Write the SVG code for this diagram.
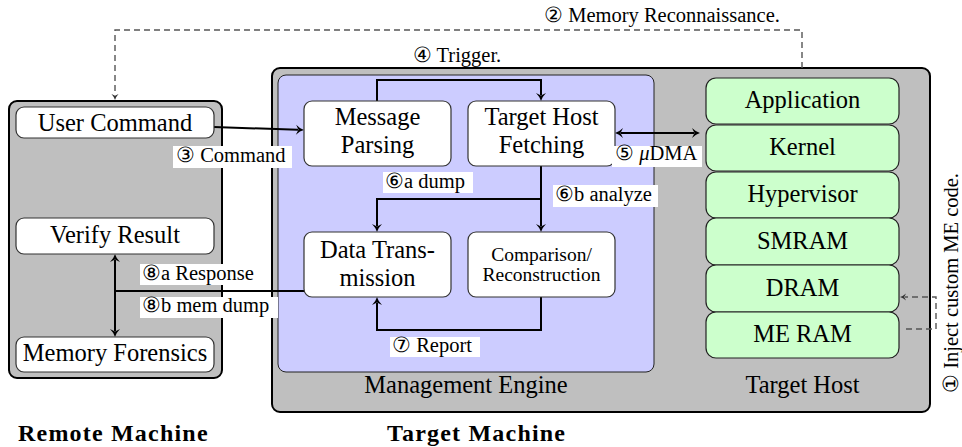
<svg xmlns="http://www.w3.org/2000/svg" width="962" height="447" viewBox="0 0 962 447" font-family="'Liberation Serif', 'Times New Roman', Tinos, 'DejaVu Serif', serif">
<style>
text{font-family:'Liberation Serif','Times New Roman',Tinos,'DejaVu Serif',serif;fill:#000}
.big{font-size:24.5px;text-anchor:middle}
.lbl{font-size:20.5px}
.sm{font-size:19.5px;text-anchor:middle}
.mid{text-anchor:middle}
.title{font-size:24px;font-weight:bold;letter-spacing:1.2px}
.cont{fill:#bfbfbf;stroke:#000;stroke-width:2}
.me{fill:#ccccff;stroke:#222;stroke-width:1}
.node{fill:#fff;stroke:#333;stroke-width:1.2}
.mem{fill:#ccffcc;stroke:#222;stroke-width:1.2}
.conn{fill:none;stroke:#000;stroke-width:2}
.dash{fill:none;stroke:#555;stroke-width:1.4;stroke-dasharray:6 4}
.bg{fill:#fff}
</style>
<defs>
<marker id="arr" markerUnits="userSpaceOnUse" markerWidth="14" markerHeight="14" viewBox="-2 -7 14 14" refX="2" refY="0" orient="auto-start-reverse">
<path d="M0,-5 Q4,-1 8,0 Q4,1 0,5 L2.5,0 Z" fill="#000"/>
</marker>
<marker id="arrs" markerUnits="userSpaceOnUse" markerWidth="10" markerHeight="10" viewBox="-2 -5 10 10" refX="1" refY="0" orient="auto">
<path d="M0,-3.5 Q3,-0.8 6,0 Q3,0.8 0,3.5 L1.8,0 Z" fill="#333"/>
</marker>
</defs>

<g id="containers">
<rect id="remote-machine" class="cont" x="9" y="101" width="213" height="277" rx="8"/>
<rect id="target-machine" class="cont" x="272" y="68" width="658" height="344" rx="8"/>
<rect id="management-engine" class="me" x="278" y="75" width="376" height="297" rx="8"/>
</g>

<g id="connectors">
<path class="dash" d="M802,68 V30 H115 V95" marker-end="url(#arrs)"/>
<path class="dash" d="M906,329 H936 V297 H905" marker-end="url(#arrs)"/>
<path class="conn" d="M214,127 L298,129.8" marker-end="url(#arr)"/>
<path class="conn" d="M377,101 V80 H541 V95" marker-end="url(#arr)"/>
<path class="conn" d="M621,133 H694" marker-start="url(#arr)" marker-end="url(#arr)"/>
<path class="conn" d="M541,166 V226" marker-end="url(#arr)"/>
<path class="conn" d="M541,199 H377 V226" marker-end="url(#arr)"/>
<path class="conn" d="M541,297 V330 H377 V303" marker-end="url(#arr)"/>
<path class="conn" d="M304,291 H115"/>
<path class="conn" d="M115,260 V331" marker-start="url(#arr)" marker-end="url(#arr)"/>
</g>

<g id="user-command">
<rect class="node" x="16" y="107" width="198" height="31" rx="8"/>
<text class="big" x="115" y="131">User Command</text>
</g>
<g id="verify-result">
<rect class="node" x="16" y="218" width="198" height="36" rx="8"/>
<text class="big" x="115" y="243">Verify Result</text>
</g>
<g id="memory-forensics">
<rect class="node" x="16" y="337" width="198" height="35" rx="8"/>
<text class="big" x="115" y="361">Memory Forensics</text>
</g>
<g id="message-parsing">
<rect class="node" x="304" y="101" width="147" height="65" rx="8"/>
<text class="big" x="377.5" y="125">Message</text>
<text class="big" x="377.5" y="153">Parsing</text>
</g>
<g id="target-host-fetching">
<rect class="node" x="468" y="101" width="147" height="65" rx="8"/>
<text class="big" x="541.5" y="125">Target Host</text>
<text class="big" x="541.5" y="153">Fetching</text>
</g>
<g id="data-transmission">
<rect class="node" x="304" y="232" width="147" height="65" rx="8"/>
<text class="big" x="377.5" y="258">Data Trans-</text>
<text class="big" x="377.5" y="286">mission</text>
</g>
<g id="comparison-reconstruction">
<rect class="node" x="468" y="232" width="147" height="65" rx="8"/>
<text class="sm" x="541.5" y="261">Comparison/</text>
<text class="sm" x="541.5" y="281">Reconstruction</text>
</g>

<g id="application"><rect class="mem" x="706" y="78" width="193" height="46" rx="10"/><text class="big" x="802.5" y="108">Application</text></g>
<g id="kernel"><rect class="mem" x="706" y="125" width="193" height="46" rx="10"/><text class="big" x="802.5" y="155">Kernel</text></g>
<g id="hypervisor"><rect class="mem" x="706" y="172" width="193" height="46" rx="10"/><text class="big" x="802.5" y="202">Hypervisor</text></g>
<g id="smram"><rect class="mem" x="706" y="218" width="193" height="47" rx="10"/><text class="big" x="802.5" y="249">SMRAM</text></g>
<g id="dram"><rect class="mem" x="706" y="265" width="193" height="47" rx="10"/><text class="big" x="802.5" y="296">DRAM</text></g>
<g id="me-ram"><rect class="mem" x="706" y="312" width="193" height="46" rx="10"/><text class="big" x="802.5" y="342">ME RAM</text></g>

<g id="labels">
<text class="lbl mid" x="662" y="22">② Memory Reconnaissance.</text>
<text class="lbl mid" x="457" y="62">④ Trigger.</text>
<rect class="bg" x="173" y="146" width="119" height="22"/>
<text class="lbl" x="176" y="162">③ Command</text>
<rect class="bg" x="612" y="146" width="90" height="21"/>
<text class="lbl" x="615" y="160">⑤ <tspan font-style="italic">μ</tspan>DMA</text>
<rect class="bg" x="383" y="172" width="90" height="21"/>
<text class="lbl" x="385" y="188">⑥a dump</text>
<rect class="bg" x="553" y="185" width="105" height="22"/>
<text class="lbl" x="555" y="201">⑥b analyze</text>
<rect class="bg" x="390" y="337" width="90" height="20"/>
<text class="lbl" x="392" y="352">⑦ Report</text>
<rect class="bg" x="140" y="264" width="118" height="21"/>
<text class="lbl" x="142" y="280">⑧a Response</text>
<rect class="bg" x="140" y="297" width="138" height="21"/>
<text class="lbl" x="142" y="312">⑧b mem dump</text>
<text class="lbl mid" transform="translate(958,283) rotate(-90)">① Inject custom ME code.</text>
<text class="big" x="466" y="393">Management Engine</text>
<text class="big" x="802.5" y="393">Target Host</text>
<text class="title" x="18" y="441">Remote Machine</text>
<text class="title" x="387" y="441">Target Machine</text>
</g>
</svg>
